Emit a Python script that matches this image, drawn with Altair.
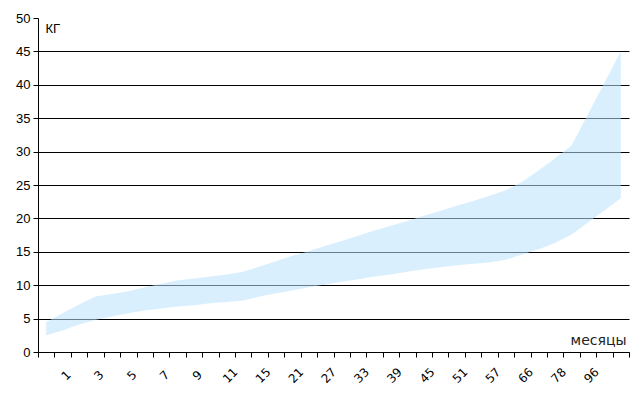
import json
import altair as alt
import pandas as pd

# month categories along the x axis
months = [0, 1, 2, 3, 4, 5, 6, 7, 8, 9, 10, 11, 12,
          15, 18, 21, 24, 27, 30, 33, 36, 39, 42, 45, 48, 51, 54, 57, 60,
          66, 72, 78, 84, 96, 108, 120]
# lower and upper limits of the band (kg)
lower = [2.5, 3.2, 4.1, 4.8, 5.3, 5.8, 6.2, 6.5, 6.8, 7.0, 7.3, 7.5, 7.7,
         8.3, 8.8, 9.2, 9.7, 10.1, 10.5, 10.9, 11.3, 11.6, 12.0, 12.4, 12.7,
         13.0, 13.2, 13.4, 13.8, 14.6, 15.4, 16.3, 17.6, 19.4, 21.2, 23.0]
upper = [4.5, 5.8, 7.1, 8.3, 8.7, 9.1, 9.7, 10.2, 10.7, 11.0, 11.3, 11.6, 12.0,
         12.8, 13.6, 14.4, 15.1, 15.9, 16.6, 17.4, 18.2, 18.9, 19.6, 20.4, 21.1,
         21.9, 22.6, 23.4, 24.2, 25.5, 27.2, 29.0, 30.9, 35.6, 40.3, 45.0]
# tick labels shown (every other category)
tick_labels = [str(m) if (i % 2 == 1 and i <= 33) else "" for i, m in enumerate(months)]
y_ticks = list(range(0, 55, 5))

n = len(months)
df = pd.DataFrame({
    "pos": [i + 0.5 for i in range(n)],
    "month": months,
    "lower": lower,
    "upper": upper,
})

x_values = sorted([float(i) for i in range(n + 1)] + [i + 0.5 for i in range(n)])
label_expr = ("datum.value % 1 == 0 ? '' : " + json.dumps(tick_labels, ensure_ascii=False)
              + "[floor(datum.value)]")

chart = alt.Chart(df).mark_area(
    color="#BAE2FB", opacity=0.55, interpolate="linear"
).encode(
    x=alt.X("pos:Q",
            scale=alt.Scale(domain=[0, n], nice=False, zero=False),
            axis=alt.Axis(
                values=x_values, labelExpr=label_expr, grid=False,
                domainColor="black", tickColor="black", tickSize=5,
                tickOpacity={"condition": {"test": "datum.value % 1 == 0", "value": 1}, "value": 0},
                labelAngle=315, labelAlign="center", labelBaseline="middle",
                labelPadding=18, labelOffset=3, labelFlush=False, labelOverlap=False,
                labelFont="DejaVu Sans", labelFontSize=12, labelColor="black",
                title="месяцы", titleFont="DejaVu Sans", titleFontSize=14,
                titleFontWeight="normal", titleColor="#222222",
                titleAnchor="end", titleAlign="right", titleBaseline="alphabetic",
                titleX=588, titleY=-8,
            )),
    y=alt.Y("lower:Q",
            scale=alt.Scale(domain=[0, 50], nice=False, zero=True),
            axis=alt.Axis(
                values=y_ticks, grid=True, gridColor="black", gridWidth=1,
                gridOpacity={"condition": {"test": "datum.value == 50", "value": 0}, "value": 1},
                domainColor="black", tickColor="black", tickSize=5,
                labelFont="Liberation Sans", labelFontSize=13, labelColor="black",
                labelPadding=3,
                title="КГ", titleFont="Liberation Sans", titleFontSize=13,
                titleFontWeight="normal", titleColor="black",
                titleAngle=0, titleAlign="left", titleBaseline="top",
                titleX=7, titleY=4,
            )),
    y2="upper:Q",
).properties(
    width=591, height=334,
    autosize=alt.AutoSizeParams(type="none"),
    padding={"left": 30, "top": 10, "right": 6, "bottom": 45},
).configure_view(stroke=None)

chart.save("out.html", embed_options={"renderer": "svg", "actions": False})
